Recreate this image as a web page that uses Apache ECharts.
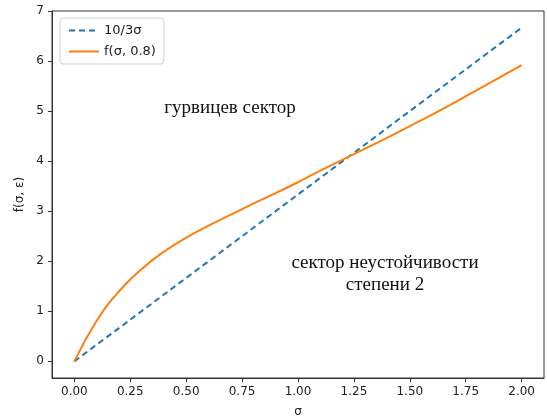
<!DOCTYPE html>
<html>
<head>
<meta charset="utf-8">
<script src="https://cdn.jsdelivr.net/npm/echarts@6/dist/echarts.min.js"></script>
<style>
  html, body { margin: 0; padding: 0; background: #fff; }
  #main { width: 547px; height: 416px; }
</style>
</head>
<body>
<div id="main"></div>
<script>
// σ values and f(σ, 0.8)
const sigma = [0, 0.1, 0.2, 0.3, 0.4, 0.5, 0.6, 0.7, 0.8, 0.9, 1.0, 1.1, 1.2, 1.3, 1.4, 1.5, 1.6, 1.7, 1.8, 1.9, 2.0];
const fVals = [0, 0.81, 1.40, 1.84, 2.19, 2.47, 2.71, 2.93, 3.15, 3.36, 3.58, 3.81, 4.03, 4.25, 4.47, 4.70, 4.93, 5.17, 5.42, 5.67, 5.92];
// straight line 10/3σ, its two ends
const lineSigma = [0, 2];
const lineVals = [0, 6.667];

const xTicks = [0, 0.25, 0.5, 0.75, 1.0, 1.25, 1.5, 1.75, 2.0];
const yTicks = [0, 1, 2, 3, 4, 5, 6, 7];

const myChart = echarts.init(document.getElementById('main'));

const tickFont = { fontFamily: 'DejaVu Sans', fontSize: 12, color: '#222' };

myChart.setOption({
  animation: false,
  grid: {
    left: 52, right: 3, top: 11, bottom: 38,
    outerBoundsMode: 'none',
    show: true, borderColor: '#333', borderWidth: 1
  },
  legend: {
    orient: 'vertical',
    left: 60, top: 18,
    padding: [6, 8, 6, 8],
    itemGap: 8,
    itemWidth: 30, itemHeight: 10,
    borderColor: '#d0d0d0', borderWidth: 1, borderRadius: 3,
    itemStyle: { opacity: 0 },
    textStyle: { fontFamily: 'DejaVu Sans', fontSize: 13, color: '#222' },
    data: ['10/3σ', 'f(σ, 0.8)']
  },
  xAxis: {
    type: 'value',
    min: -0.1, max: 2.1,
    name: 'σ', nameLocation: 'middle', nameGap: 28,
    nameTextStyle: tickFont,
    axisLine: { show: true, onZero: false, lineStyle: { color: '#333' } },
    axisTick: { show: true, length: 4, customValues: xTicks, lineStyle: { color: '#333' } },
    axisLabel: { customValues: xTicks, margin: 8, ...tickFont, formatter: v => v.toFixed(2) },
    splitLine: { show: false }
  },
  yAxis: {
    type: 'value',
    min: -0.333, max: 7,
    name: 'f(σ, ε)', nameLocation: 'middle', nameGap: 24, nameRotate: 90,
    nameTextStyle: tickFont,
    axisLine: { show: true, onZero: false, lineStyle: { color: '#333' } },
    axisTick: { show: true, length: 4, customValues: yTicks, lineStyle: { color: '#333' } },
    axisLabel: { customValues: yTicks, margin: 8, ...tickFont },
    splitLine: { show: false }
  },
  graphic: [
    {
      type: 'text',
      style: {
        x: 230, y: 108, text: 'гурвицев сектор', font: '19px "Liberation Serif"',
        fill: '#111', align: 'center', verticalAlign: 'middle'
      }
    },
    {
      type: 'text',
      style: {
        x: 385, y: 274, text: 'сектор неустойчивости\nстепени 2', font: '19px "Liberation Serif"',
        fill: '#111', align: 'center', verticalAlign: 'middle', lineHeight: 22
      }
    }
  ],
  series: [
    {
      name: '10/3σ',
      type: 'line',
      data: lineSigma.map((s, i) => [s, lineVals[i]]),
      symbol: 'none',
      lineStyle: { color: '#1f77b4', width: 2, type: [6, 4] },
      itemStyle: { color: '#1f77b4' }
    },
    {
      name: 'f(σ, 0.8)',
      type: 'line',
      data: sigma.map((s, i) => [s, fVals[i]]),
      symbol: 'none',
      smooth: 0.5,
      lineStyle: { color: '#ff7f0e', width: 2 },
      itemStyle: { color: '#ff7f0e' }
    }
  ]
});
</script>
</body>
</html>
